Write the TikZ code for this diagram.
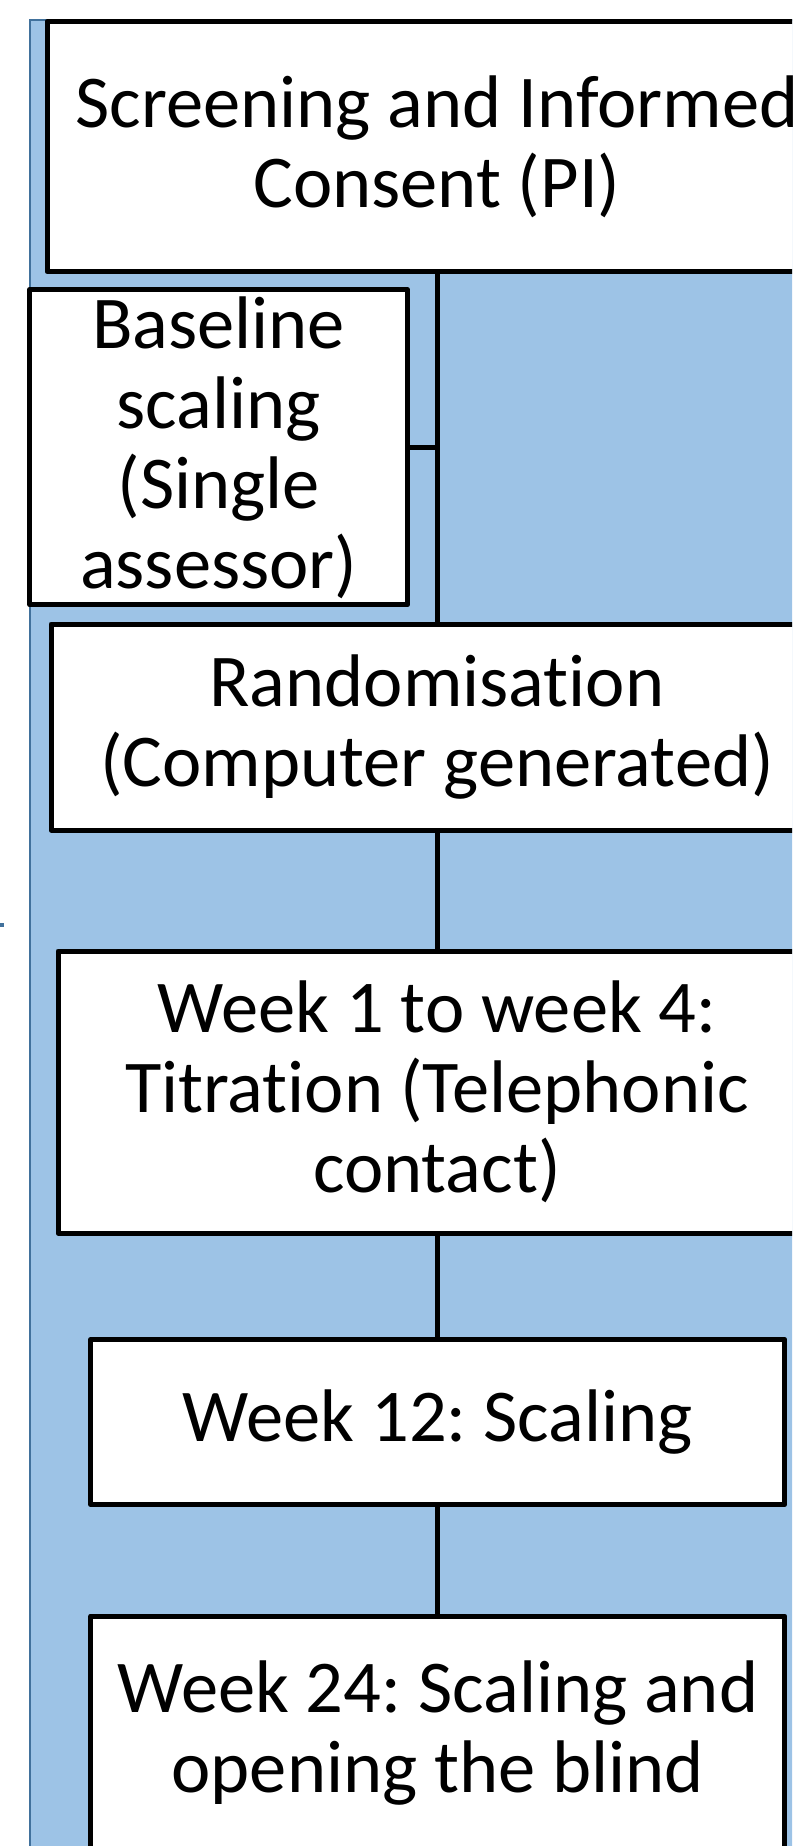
\documentclass[tikz,border=0pt]{standalone}
\usepackage{fontspec}
\setmainfont{Carlito}[Ligatures={NoCommon}]
\frenchspacing
\definecolor{panelfill}{HTML}{9DC3E6}
\definecolor{paneledge}{HTML}{41719C}
\newcommand{\nolig}{\kern0pt }
\begin{document}
\begin{tikzpicture}[x=1pt,y=-1pt,
  stepbox/.style={draw=black,line width=5pt,line join=round,fill=white,inner sep=0pt,align=center,
    font=\fontsize{74.5}{80}\selectfont},
  link/.style={draw=black,line width=5pt}]
\useasboundingbox (0,0) rectangle (792,1846);
\clip (0,0) rectangle (792,1846);
\fill[white] (0,0) rectangle (792,1846);
% panel
\draw[fill=panelfill,draw=paneledge,line width=1.5pt] (30,20) rectangle (830,1900);
\fill[paneledge] (0,922.5) rectangle (3.5,927);
% boxes
\node[stepbox,minimum width=780pt,minimum height=250pt] (top) at (437,146.5) {Screening and Informed\\Consent (PI)};
\node[stepbox,minimum width=378pt,minimum height=315pt] (base) at (218.7,447.3) {Baseline\\scaling\\(Single\\assessor)};
\node[stepbox,minimum width=772pt,minimum height=206pt] (rand) at (437,727) {Randomisat\nolig ion\\(Computer generated)};
\node[stepbox,minimum width=758pt,minimum height=282pt] (w1) at (437,1092) {Week 1 to week 4:\\Titrat\nolig ion (Telephonic\\contact)};
\node[stepbox,minimum width=694pt,minimum height=165pt] (w12) at (437.8,1422) {Week 12: Scaling};
\node[stepbox,minimum width=694pt,minimum height=234pt] (w24) at (437.8,1733) {Week 24: Scaling and\\opening the blind};
% connectors
\draw[link] (top.south) -- (rand.north);
\draw[link] (base.east) -- (base.east -| top.south);
\draw[link] (rand.south) -- (w1.north);
\draw[link] (w1.south) -- (w1.south |- w12.north);
\draw[link] (w12.south) -- (w24.north);
\end{tikzpicture}
\end{document}
